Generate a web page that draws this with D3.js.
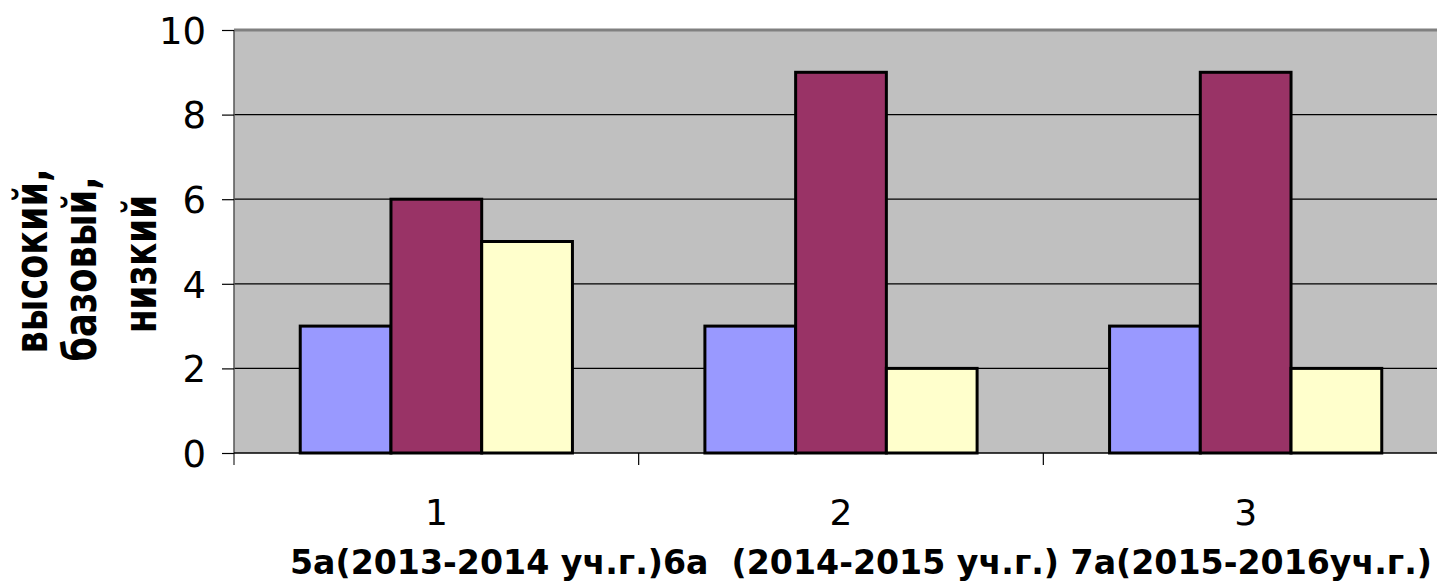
<!DOCTYPE html>
<html><head><meta charset="utf-8">
<script src="https://cdn.jsdelivr.net/npm/d3@7"></script>
<style>body{margin:0;background:#fff;}svg{display:block;}</style>
</head><body>
<svg id="c" width="1437" height="587"></svg>
<script>
const categories = ["1", "2", "3"];
const seriesNames = ["высокий", "базовый", "низкий"];
const high = [3, 3, 3];
const base = [6, 9, 9];
const low = [5, 2, 2];
const yTicks = [0, 2, 4, 6, 8, 10];
const colors = ["#9999FF", "#993366", "#FFFFCC"];
const xTitle = "5а(2013-2014 уч.г.)6а  (2014-2015 уч.г.) 7а(2015-2016уч.г.)";
const yTitleLines = ["высокий,", "базовый,", "низкий"];

(function () {
const svg = d3.select("#c");
const pl = 234, pr = 1448, pt = 30, pb = 453;
const x = d3.scaleBand().domain(categories).range([pl, pr]).paddingInner(0).paddingOuter(0);
const inner = d3.scaleBand().domain(seriesNames).range([0, x.bandwidth()]).paddingInner(0).paddingOuter(0.73);
const y = d3.scaleLinear().domain([0, 10]).range([pb, pt]);

svg.append("rect").attr("x", pl).attr("y", pt).attr("width", pr - pl).attr("height", pb - pt).attr("fill", "#C0C0C0");

svg.append("g").selectAll("line").data(yTicks.filter(d => d > 0 && d < 10)).join("line")
  .attr("x1", pl).attr("x2", pr).attr("y1", d => y(d)).attr("y2", d => y(d))
  .attr("stroke", "#000").attr("stroke-width", 1.2);
svg.append("line").attr("x1", pl).attr("x2", pr).attr("y1", pt).attr("y2", pt).attr("stroke", "#808080").attr("stroke-width", 3);

const rows = categories.map((c, i) => ({c, vals: [high[i], base[i], low[i]]}));
const g = svg.append("g").selectAll("g").data(rows).join("g").attr("transform", d => `translate(${x(d.c)},0)`);
g.selectAll("rect").data(d => d.vals.map((v, j) => ({v, s: seriesNames[j], j}))).join("rect")
  .attr("x", d => inner(d.s)).attr("width", inner.bandwidth())
  .attr("y", d => y(d.v)).attr("height", d => y(0) - y(d.v))
  .attr("fill", d => colors[d.j]).attr("stroke", "#000").attr("stroke-width", 3);

const ya = svg.append("g").attr("transform", `translate(${pl},0)`)
  .call(d3.axisLeft(y).tickValues(yTicks).tickSize(12).tickPadding(16));
ya.select(".domain").attr("stroke", "#555").attr("stroke-width", 1.5).attr("d", `M0,${pt}V${pb + 12}`);
ya.selectAll(".tick line").attr("stroke", "#000").attr("stroke-width", 1.2);
ya.selectAll(".tick text").attr("font-family", "DejaVu Sans").attr("font-size", 37).attr("fill", "#000").attr("dy", "0.36em");

const xa = svg.append("g").attr("transform", `translate(0,${pb})`)
  .call(d3.axisBottom(x).tickSize(0).tickPadding(46));
xa.select(".domain").attr("stroke", "#000").attr("stroke-width", 1.5).attr("d", `M${pl},0H${pr}`);
xa.selectAll(".tick text").attr("font-family", "DejaVu Sans").attr("font-size", 36).attr("fill", "#000");
svg.append("g").selectAll("line").data(categories.slice(1)).join("line")
  .attr("x1", d => x(d)).attr("x2", d => x(d)).attr("y1", pb).attr("y2", pb + 12)
  .attr("stroke", "#000").attr("stroke-width", 1.2);

svg.append("text").attr("x", 290).attr("y", 574).attr("font-family", "DejaVu Sans").attr("font-weight", "bold")
  .attr("font-size", 33).attr("textLength", 1142).attr("lengthAdjust", "spacingAndGlyphs").attr("xml:space", "preserve")
  .text(xTitle);

const lineX = [47, 96, 156];
const lineY = [261, 269, 264];
const lineLen = [185, 185, 138];
yTitleLines.forEach((t, i) => {
  svg.append("text").attr("transform", `translate(${lineX[i]},${lineY[i]}) rotate(-90)`).attr("text-anchor", "middle")
    .attr("font-family", "DejaVu Sans").attr("font-weight", "bold").attr("font-size", 46)
    .attr("textLength", lineLen[i]).attr("lengthAdjust", "spacingAndGlyphs").text(t);
});
})();
</script>
</body></html>
